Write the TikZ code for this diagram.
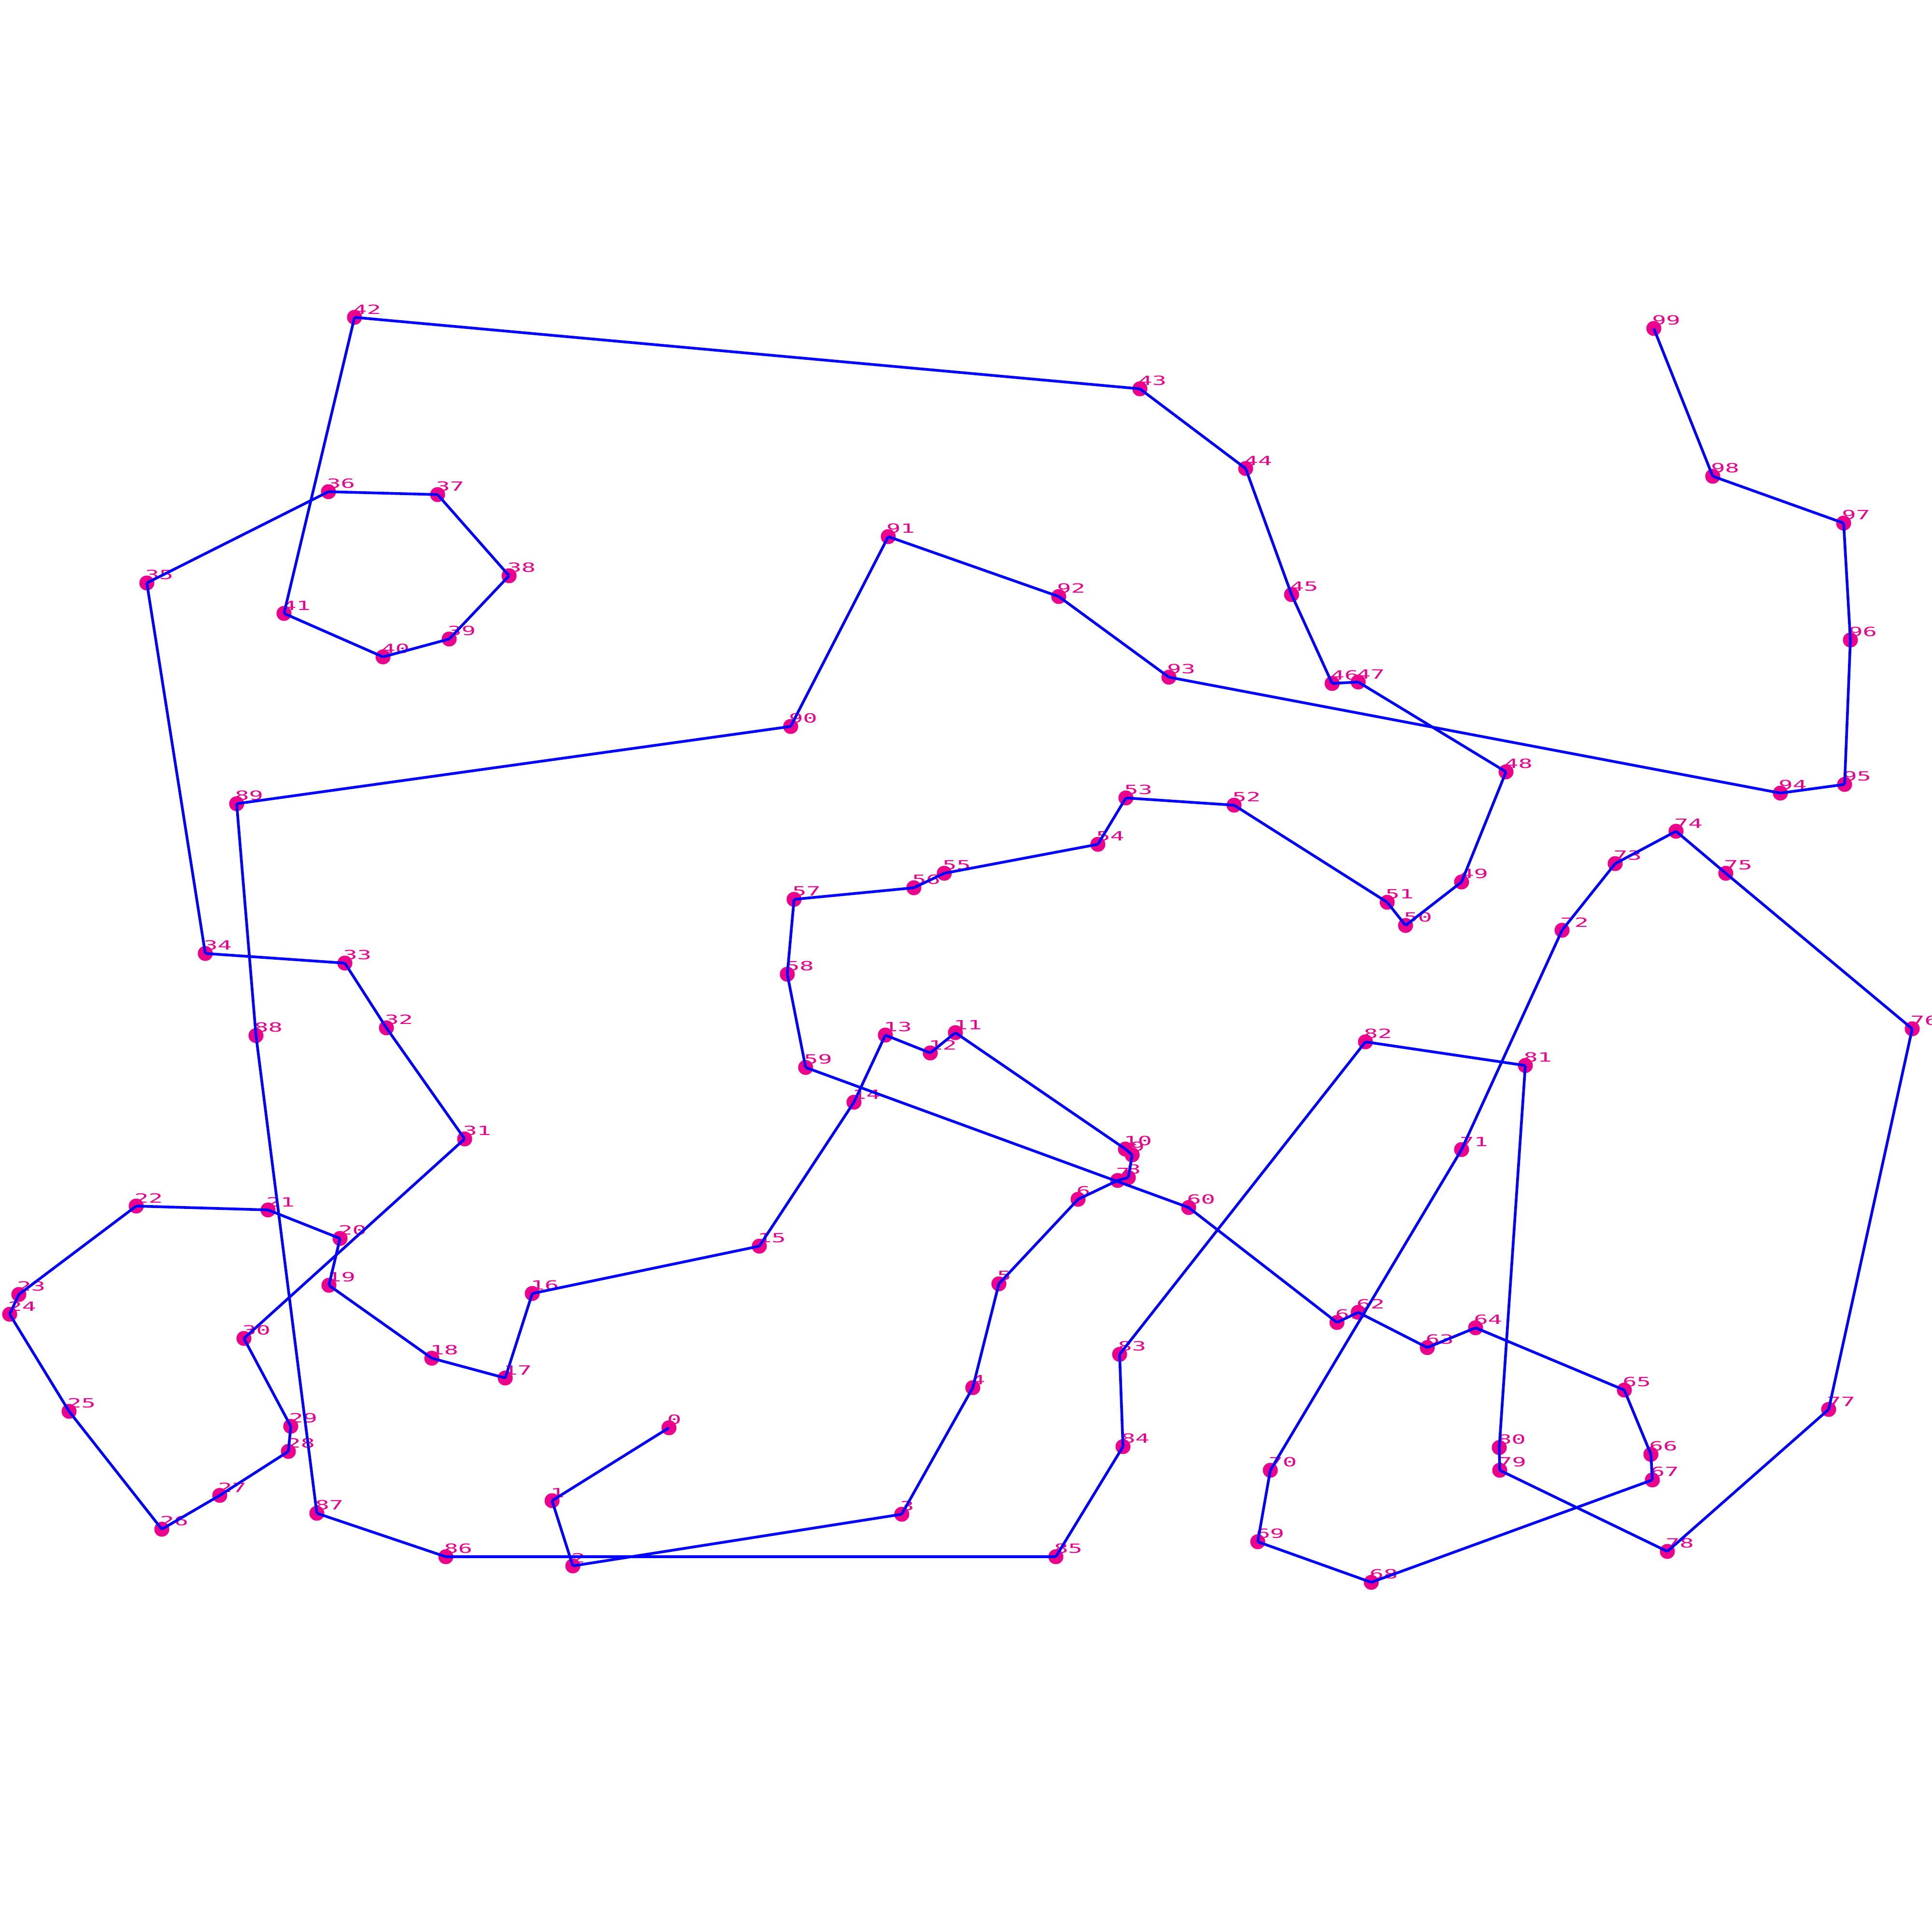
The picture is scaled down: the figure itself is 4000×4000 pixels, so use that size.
\documentclass[tikz,border=0pt]{standalone}
\usepackage{fontspec}
\setmonofont{DejaVu Sans Mono}

\begin{document}
\begin{tikzpicture}[x=0.01cm, y=-0.01cm,
        dot/.style={circle, fill=magenta, inner sep=0pt, minimum size=0.31cm},
        tag/.style={anchor=south west, inner sep=0pt, text=magenta, font=\ttfamily\fontsize{7.5}{7.5}\selectfont, xscale=1.85},
        link/.style={draw, blue, line width=1.6pt}]

        \useasboundingbox (0,0) rectangle (4000,4000);

        % the points, in tour order
        \foreach \i/\x/\y in {0/1385/2956, 1/1143/3107, 2/1186/3242, 3/1867/3135, 4/2014/2873,
            5/2068/2658, 6/2232/2483, 7/2314/2444, 8/2336/2438, 9/2344/2391,
            10/2330/2379, 11/1978/2138, 12/1926/2180, 13/1833/2143, 14/1768/2282,
            15/1572/2580, 16/1102/2678, 17/1046/2853, 18/894/2812, 19/681/2661,
            20/704/2564, 21/555/2505, 22/282/2497, 23/39/2680, 24/20/2721,
            25/143/2922, 26/335/3166, 27/455/3096, 28/597/3005, 29/602/2953,
            30/505/2771, 31/962/2358, 32/800/2128, 33/714/1994, 34/425/1974,
            35/304/1207, 36/680/1018, 37/906/1024, 38/1054/1192, 39/930/1323,
            40/793/1360, 41/588/1270, 42/734/657, 43/2360/805, 44/2579/970,
            45/2674/1231, 46/2758/1415, 47/2812/1412, 48/3118/1598, 49/3026/1826,
            50/2910/1916, 51/2872/1868, 52/2555/1667, 53/2331/1652, 54/2273/1748,
            55/1955/1808, 56/1892/1838, 57/1644/1862, 58/1630/2017, 59/1668/2210,
            60/2461/2500, 61/2768/2738, 62/2812/2717, 63/2955/2790, 64/3055/2749,
            65/3363/2878, 66/3418/3011, 67/3421/3064, 68/2839/3276, 69/2604/3192,
            70/2630/3044, 71/3026/2380, 72/3234/1926, 73/3344/1788, 74/3470/1721,
            75/3573/1808, 76/3959/2130, 77/3786/2918, 78/3452/3212, 79/3105/3044,
            80/3104/2997, 81/3158/2206, 82/2827/2157, 83/2318/2804, 84/2325/2995,
            85/2186/3223, 86/923/3223, 87/656/3133, 88/530/2144, 89/490/1664,
            90/1637/1504, 91/1839/1111, 92/2192/1235, 93/2420/1402, 94/3686/1642,
            95/3819/1624, 96/3831/1325, 97/3817/1083, 98/3546/986, 99/3424/680} {
            \node [dot] (p\i) at (\x,\y) {};
            \node [tag] (t\i) at (\x-5,\y-6) {\i};
        }

        % the tour
        \foreach \i [evaluate=\i as \j using int(\i+1)] in {0,...,98}
            \path [link] (p\i.center) -- (p\j.center);

    \end{tikzpicture}
\end{document}
